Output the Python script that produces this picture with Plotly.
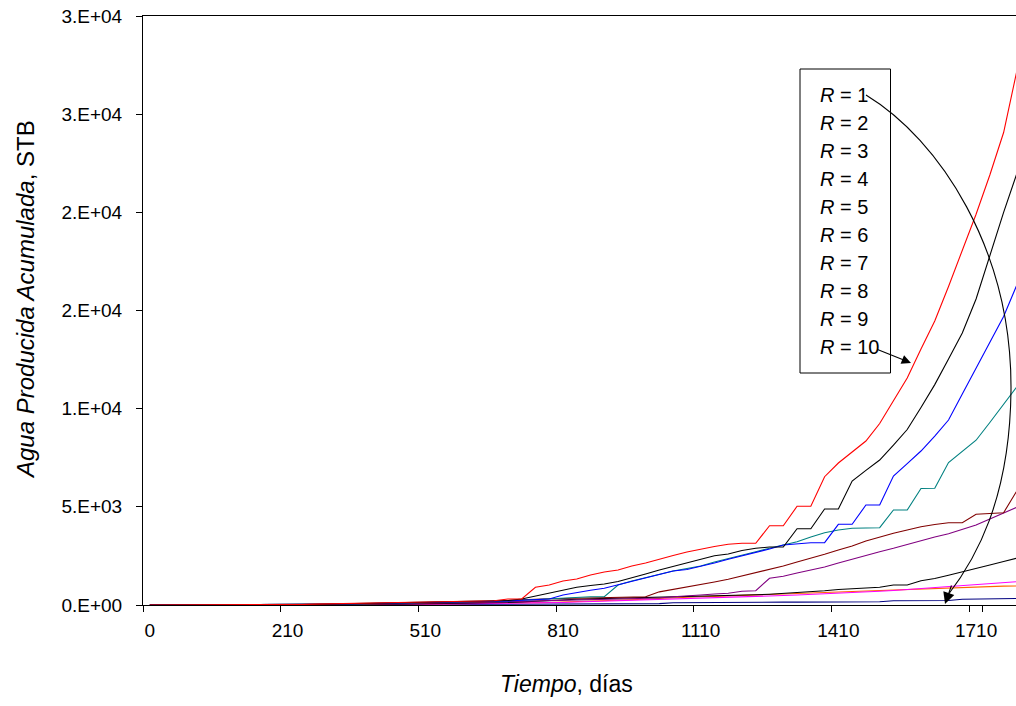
import plotly.graph_objects as go

# ---------------- data ----------------
dias = [0, 1, 7, 15, 30, 60, 90, 120, 150, 180,
        210, 240, 270, 300, 330, 360, 390, 420, 450, 480,
        510, 540, 570, 600, 630, 660, 690, 720, 750, 780,
        810, 840, 870, 900, 930, 960, 990, 1020, 1050, 1080,
        1110, 1140, 1170, 1200, 1230, 1260, 1290, 1320, 1350, 1380,
        1410, 1440, 1470, 1500, 1530, 1560, 1590, 1620, 1650, 1680,
        1710, 1740, 1770, 1800]

x_tick_labels = ["0", "210", "510", "810", "1110", "1410", "1710"]
y_tick_vals = [0, 5000, 10000, 15000, 20000, 25000, 30000]
y_tick_text = ["0.E+00", "5.E+03", "1.E+04", "2.E+04", "2.E+04", "3.E+04", "3.E+04"]

r1_navy = [0, 0, 0, 0, 0, 0, 0, 0, 0, 0,
           0, 2, 4, 6, 8, 10, 12, 15, 18, 20,
           22, 25, 28, 30, 33, 36, 40, 42, 45, 47,
           50, 52, 54, 56, 58, 60, 62, 70, 117, 125,
           130, 133, 136, 138, 140, 142, 144, 146, 148, 150,
           152, 155, 158, 168, 219, 220, 222, 224, 229, 290,
           295, 300, 310, 330]

r2_orange = [0, 0, 0, 0, 0, 0, 0, 0, 0, 0,
             1, 3, 6, 10, 14, 18, 22, 27, 32, 38,
             44, 50, 56, 62, 70, 80, 90, 100, 115, 130,
             150, 170, 190, 210, 230, 250, 290, 330, 370, 400,
             423, 440, 460, 480, 505, 535, 560, 585, 610, 636,
             662, 688, 713, 738, 764, 789, 820, 855, 891, 916,
             942, 952, 960, 968]

r3_magenta = [0, 0, 0, 0, 0, 0, 0, 0, 0, 0,
              1, 3, 6, 10, 14, 18, 22, 27, 32, 38,
              44, 50, 56, 62, 70, 78, 86, 95, 105, 115,
              130, 150, 170, 190, 210, 230, 260, 290, 315, 330,
              345, 375, 395, 415, 437, 458, 483, 508, 534, 560,
              596, 628, 662, 700, 738, 789, 840, 876, 917, 968,
              1019, 1070, 1120, 1187]

r4_black = [0, 0, 0, 0, 0, 0, 0, 0, 0, 0,
            1, 4, 8, 14, 20, 26, 32, 38, 44, 50,
            56, 65, 75, 85, 95, 105, 130, 160, 200, 240,
            280, 295, 310, 325, 340, 356, 375, 395, 415, 430,
            443, 458, 474, 494, 520, 550, 586, 626, 682, 728,
            789, 815, 850, 901, 1019, 1019, 1238, 1350, 1518, 1680,
            1859, 2037, 2215, 2394]

r5_purple = [0, 0, 0, 0, 0, 0, 0, 0, 0, 0,
             2, 6, 12, 20, 28, 35, 42, 50, 58, 65,
             72, 85, 100, 115, 130, 150, 170, 190, 210, 230,
             250, 265, 280, 295, 310, 330, 345, 360, 420, 480,
             509, 560, 596, 700, 728, 1360, 1462, 1630, 1783, 1935,
             2139, 2343, 2547, 2715, 2888, 3081, 3285, 3463, 3631, 3845,
             4074, 4380, 4686, 4991]

r6_maroon = [0, 0, 0, 0, 0, 0, 0, 0, 0, 0,
             2, 8, 15, 25, 35, 42, 50, 58, 65, 72,
             80, 100, 120, 140, 160, 180, 230, 270, 306, 318,
             331, 343, 356, 369, 382, 407, 423, 670, 789, 917,
             1019, 1171, 1309, 1477, 1665, 1833, 1986, 2190, 2378, 2582,
             2801, 3005, 3260, 3463, 3652, 3820, 3988, 4100, 4192, 4192,
             4619, 4660, 4701, 5857]

r7_teal = [0, 0, 0, 0, 0, 0, 0, 0, 0, 0,
           3, 10, 20, 33, 45, 55, 65, 75, 85, 95,
           105, 115, 125, 140, 155, 170, 200, 240, 280, 306,
           356, 392, 423, 423, 1019, 1222, 1400, 1579, 1732, 1859,
           1986, 2190, 2378, 2546, 2715, 2888, 3056, 3224, 3463, 3682,
           3820, 3906, 3922, 3937, 4838, 4838, 5933, 5943, 7257, 7808,
           8393, 9295, 10237, 11153]

r8_blue = [0, 0, 0, 0, 0, 0, 0, 0, 0, 0,
           3, 10, 22, 35, 48, 58, 68, 80, 90, 100,
           110, 120, 130, 145, 160, 175, 200, 240, 280, 306,
           509, 647, 749, 856, 1029, 1207, 1390, 1579, 1732, 1810,
           1961, 2139, 2327, 2496, 2664, 2852, 3056, 3132, 3173, 3173,
           4110, 4110, 5093, 5093, 6570, 7201, 7843, 8607, 9422, 10746,
           12045, 13374, 14693, 16364]

r9_black = [0, 0, 0, 0, 0, 0, 0, 0, 0, 0,
            5, 15, 30, 45, 60, 70, 80, 95, 105, 115,
            125, 135, 145, 160, 175, 190, 230, 306, 450, 590,
            754, 901, 993, 1070, 1197, 1375, 1579, 1783, 1960, 2139,
            2327, 2511, 2597, 2776, 2888, 2954, 2954, 3886, 3886, 4889,
            4889, 6315, 6860, 7385, 8149, 8938, 10059, 11225, 12528, 13858,
            15585, 17826, 19995, 22053]

r10_red = [0, 0, 0, 0, 0, 0, 0, 0, 0, 0,
           10, 25, 45, 65, 80, 92, 100, 120, 130, 140,
           150, 160, 170, 190, 205, 214, 306, 306, 900, 1019,
           1222, 1324, 1528, 1680, 1783, 1986, 2139, 2343, 2521, 2700,
           2852, 2980, 3091, 3142, 3142, 4039, 4039, 5027, 5027, 6534,
           7232, 7780, 8352, 9244, 10405, 11561, 13038, 14464, 16226, 18019,
           19903, 21900, 24064, 27324]

series = [
    ("R = 1", r1_navy, "#000080"),
    ("R = 2", r2_orange, "#FF6600"),
    ("R = 3", r3_magenta, "#FF00FF"),
    ("R = 4", r4_black, "#000000"),
    ("R = 5", r5_purple, "#800080"),
    ("R = 6", r6_maroon, "#800000"),
    ("R = 7", r7_teal, "#008080"),
    ("R = 8", r8_blue, "#0000FF"),
    ("R = 9", r9_black, "#000000"),
    ("R = 10", r10_red, "#FF0000"),
]
legend_labels = ["1", "2", "3", "4", "5", "6", "7", "8", "9", "10"]

# ---------------- figure ----------------
W, H = 1016, 706
ML, MR, MT, MB = 143, 0, 16, 101
PW, PH = W - ML - MR, H - MT - MB
FONT = "Liberation Sans, Arial, sans-serif"

x_cat = [str(d) for d in dias]

fig = go.Figure()
for name, vals, col in series:
    fig.add_trace(go.Scatter(x=x_cat, y=vals, mode="lines", name=name,
                             line=dict(color=col, width=1.1), showlegend=False))


def px(X):
    return (X - ML) / PW


def py(Y):
    return (MT + PH - Y) / PH


shapes = [
    dict(type="rect", xref="paper", yref="paper",
         x0=px(800), x1=px(890.5), y0=py(373), y1=py(69),
         line=dict(color="black", width=1), fillcolor="white", layer="above"),
    dict(type="path", xref="paper", yref="paper",
         path=(f"M {px(866)},{py(95)} C {px(940)},{py(140)} {px(1012)},{py(250)} {px(1011)},{py(390)} "
               f"C {px(1010)},{py(500)} {px(975)},{py(560)} {px(948)},{py(595)}"),
         line=dict(color="black", width=1.1), layer="above"),
]

annotations = []
for k, lab in enumerate(legend_labels):
    annotations.append(dict(xref="paper", yref="paper", x=px(818), y=py(95 + 27.95 * k),
                            xanchor="left", yanchor="middle", showarrow=False,
                            text=f"<i>R</i> = {lab}",
                            font=dict(family=FONT, size=20, color="black")))
# arrow from R = 10 to curve
annotations.append(dict(xref="paper", yref="paper", x=px(911), y=py(363), ax=-35, ay=-14,
                        text="", showarrow=True, arrowhead=2, arrowsize=1.7, arrowwidth=1.1,
                        arrowcolor="black", standoff=0))
# arrowhead at the end of the curved arrow
annotations.append(dict(xref="paper", yref="paper", x=px(945), y=py(604), ax=7, ay=-20,
                        text="", showarrow=True, arrowhead=2, arrowsize=2.1, arrowwidth=1.1,
                        arrowcolor="black", standoff=0))
# axis titles
annotations.append(dict(xref="paper", yref="paper", x=px(566), y=py(684),
                        xanchor="center", yanchor="middle", showarrow=False,
                        text="<i>Tiempo</i>, días",
                        font=dict(family=FONT, size=23, color="black")))
annotations.append(dict(xref="paper", yref="paper", x=px(25), y=py(300),
                        xanchor="center", yanchor="middle", showarrow=False, textangle=-90,
                        text="<i>Agua Producida Acumulada</i>, STB",
                        font=dict(family=FONT, size=24, color="black")))

fig.update_layout(
    width=W, height=H,
    margin=dict(l=ML, r=MR, t=MT, b=MB, pad=0),
    paper_bgcolor="white", plot_bgcolor="white",
    font=dict(family=FONT, size=19, color="black"),
    shapes=shapes, annotations=annotations,
    xaxis=dict(type="category", range=[-0.5, 62.9],
               tickmode="array", tickvals=x_tick_labels, ticktext=x_tick_labels,
               tickson="boundaries", ticks="outside", ticklen=6, tickcolor="black",
               tickangle=0,
               showline=True, linecolor="black", linewidth=1, mirror=True,
               showgrid=False, zeroline=False, ticklabelstandoff=8,
               tickfont=dict(family=FONT, size=19)),
    yaxis=dict(range=[0, 30000], tickmode="array", tickvals=y_tick_vals, ticktext=y_tick_text,
               ticks="outside", ticklen=6, tickcolor="black",
               showline=True, linecolor="black", linewidth=1, mirror=False,
               showgrid=False, zeroline=False, ticklabelstandoff=10,
               tickfont=dict(family=FONT, size=19)),
)

fig.write_html("out.html")
